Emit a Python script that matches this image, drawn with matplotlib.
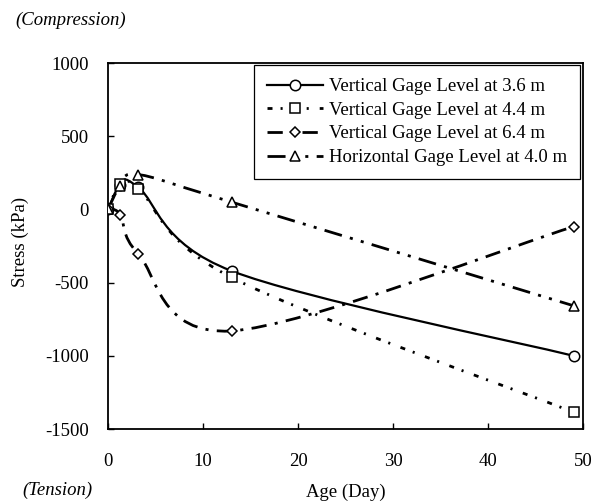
import numpy as np
import matplotlib
matplotlib.use('Agg')
import matplotlib.pyplot as plt
from matplotlib.path import Path
from matplotlib.patches import PathPatch
from matplotlib.lines import Line2D

plt.rcParams['font.family'] = ['Liberation Serif', 'DejaVu Serif']
plt.rcParams['axes.unicode_minus'] = False
plt.rcParams['lines.scale_dashes'] = False

# Data
age = [0, 1.3, 3.2, 13, 49]
vert_36 = [0, 165, 150, -420, -1000]
vert_44 = [0, 175, 140, -465, -1385]
vert_64 = [0, -35, -305, -830, -118]
horiz_40 = [0, 160, 238, 50, -658]

labels = ['Vertical Gage Level at 3.6 m', 'Vertical Gage Level at 4.4 m',
          'Vertical Gage Level at 6.4 m', 'Horizontal Gage Level at 4.0 m']

# dash patterns in points (no scaling by linewidth)
styles = [
    ('-', 'o', 1.6),
    ((0, (3.6, 5.8, 1.5, 7.9)), 's', 2.0),
    ((0, (11, 6, 2.2, 6)), 'D', 2.0),
    ((0, (13, 6, 2.2, 6, 2.2, 6)), '^', 2.0),
]
msizes = [7.5, 7, 5.5, 7.5]


def smooth_path(xs, ys):
    # Excel-style smoothed line: cubic Bezier through the data points
    pts = np.column_stack([xs, ys]).astype(float)
    n = len(pts)
    verts = [pts[0]]
    codes = [Path.MOVETO]
    for i in range(n - 1):
        p0 = pts[i - 1] if i > 0 else pts[i]
        p1 = pts[i]
        p2 = pts[i + 1]
        p3 = pts[i + 2] if i + 2 < n else pts[i + 1]
        c1 = p1 + (p2 - p0) / 6.0
        c2 = p2 - (p3 - p1) / 6.0
        verts += [c1, c2, p2]
        codes += [Path.CURVE4] * 3
    return Path(verts, codes)


fig = plt.figure(figsize=(6.01, 5.04), dpi=100)
ax = fig.add_axes([108 / 601, 1 - 429 / 504, 475 / 601, 366 / 504])

series = [vert_36, vert_44, vert_64, horiz_40]
handles = []
for vals, (ls, mk, lw), ms, lab in zip(series, styles, msizes, labels):
    patch = PathPatch(smooth_path(age, vals), facecolor='none', edgecolor='black',
                      linewidth=lw, linestyle=ls, zorder=2)
    ax.add_patch(patch)
    ax.plot(age, vals, linestyle='none', marker=mk, markersize=ms,
            markerfacecolor='white', markeredgecolor='black', markeredgewidth=1.1, zorder=3)
    handles.append(Line2D([], [], color='black', linewidth=lw, linestyle=ls, marker=mk,
                          markersize=ms, markerfacecolor='white', markeredgecolor='black',
                          markeredgewidth=1.1))

ax.set_xlim(0, 50)
ax.set_ylim(-1500, 1000)
ax.set_xticks(np.arange(0, 51, 10))
ax.set_yticks(np.arange(-1500, 1001, 500))
ax.tick_params(direction='in', length=4, width=1, labelsize=13.5)
ax.tick_params(axis='x', pad=17)
ax.tick_params(axis='y', pad=14)
for sp in ax.spines.values():
    sp.set_linewidth(1.3)

ax.set_xlabel('Age (Day)', fontsize=13.5)
ax.xaxis.label.set_va('center')
ax.xaxis.set_label_coords(0.5, -63 / 366)
ax.set_ylabel('Stress (kPa)', fontsize=13.5)
ax.yaxis.label.set_va('center')
ax.yaxis.set_label_coords(-88 / 475, 0.51)

leg = ax.legend(handles, labels, loc='upper right', bbox_to_anchor=(0.994, 0.995),
                borderaxespad=0, fontsize=13.5, handlelength=3.0, handletextpad=0.3,
                labelspacing=0.35, borderpad=0.7, fancybox=False, framealpha=1)
leg.get_frame().set_edgecolor('black')
leg.get_frame().set_linewidth(0.9)

fig.text(15 / 601, 1 - 20 / 504, '(Compression)', fontsize=13.5, style='italic',
         ha='left', va='center')
fig.text(22 / 601, 1 - 490 / 504, '(Tension)', fontsize=13.5, style='italic',
         ha='left', va='center')

fig.savefig('out.png', dpi=100)
